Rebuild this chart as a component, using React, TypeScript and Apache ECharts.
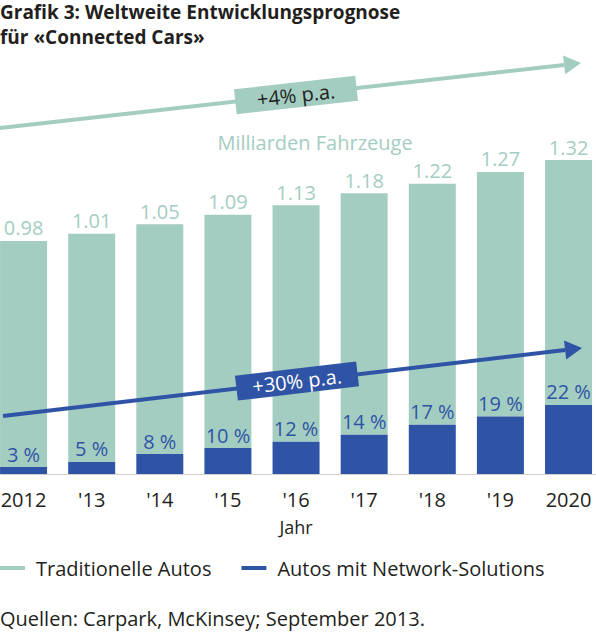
import React, { useEffect, useRef } from 'react';
import * as echarts from 'echarts';

const years = ['2012', "'13", "'14", "'15", "'16", "'17", "'18", "'19", '2020'];
const totals = [0.98, 1.01, 1.05, 1.09, 1.13, 1.18, 1.22, 1.27, 1.32];
const sharePct = [3, 5, 8, 10, 12, 14, 17, 19, 22];

const green = '#a4cdc1';
const blue = '#2f54a6';
const ink = '#231f20';
const font = '"Open Sans", sans-serif';

// blue part = share of total, green part = rest
const networked = totals.map((t, i) => +(t * sharePct[i] / 100).toFixed(4));
const traditional = totals.map((t, i) => +(t - networked[i]).toFixed(4));

const arrow = (x0: number, y0: number, x1: number, y1: number, color: string) => {
  const len = Math.hypot(x1 - x0, y1 - y0);
  const dx = (x1 - x0) / len;
  const dy = (y1 - y0) / len;
  const bx = x1 - 17 * dx;
  const by = y1 - 17 * dy;
  const nx = -dy * 9.5;
  const ny = dx * 9.5;
  return [
    {
      type: 'line',
      z: 100,
      shape: { x1: x0, y1: y0, x2: bx, y2: by },
      style: { stroke: color, lineWidth: 4 },
    },
    {
      type: 'polygon',
      z: 100,
      shape: { points: [[x1, y1], [bx + nx, by + ny], [bx - nx, by - ny]] },
      style: { fill: color },
    },
  ];
};

const tag = (cx: number, cy: number, angle: number, text: string, fill: string, color: string) => ({
  type: 'group',
  x: cx,
  y: cy,
  z: 101,
  rotation: angle,
  children: [
    { type: 'rect', z: 101, shape: { x: -61, y: -12.5, width: 122, height: 25 }, style: { fill } },
    {
      type: 'text',
      z: 102,
      x: 0,
      y: 0,
      style: { text, fill: color, font: `20px ${font}`, align: 'center', verticalAlign: 'middle' },
    },
  ],
});

export default function App() {
  const chartRef = useRef<HTMLDivElement>(null);

  useEffect(() => {
    document.body.style.margin = '0';
    if (!chartRef.current) return;
    const chart = echarts.init(chartRef.current, null, { renderer: 'svg' });

    chart.setOption({
      animation: false,
      backgroundColor: '#ffffff',
      textStyle: { fontFamily: font },
      legend: {
        left: 0,
        top: 558,
        padding: 0,
        icon: 'rect',
        itemWidth: 25,
        itemHeight: 4,
        itemGap: 30,
        data: ['Traditionelle Autos', 'Autos mit Network-Solutions'],
        textStyle: { fontSize: 20, color: ink, padding: [0, 0, 0, 6], fontFamily: font },
      },
      grid: { left: -10.5, right: -6.6, top: 141, bottom: 162, containLabel: false, outerBoundsMode: 'none' },
      xAxis: {
        type: 'category',
        data: years,
        name: 'Jahr',
        nameLocation: 'middle',
        nameGap: 44,
        nameTextStyle: { fontSize: 18, color: ink },
        axisLine: { lineStyle: { color: '#cfcfcf', width: 1 } },
        axisTick: { show: false },
        axisLabel: { fontSize: 20, color: ink, margin: 15 },
      },
      yAxis: {
        type: 'value',
        min: 0,
        max: 1.4,
        show: false,
        splitLine: { show: false },
      },
      series: [
        {
          name: 'Autos mit Network-Solutions',
          type: 'bar',
          stack: 'cars',
          barWidth: 47,
          data: networked,
          itemStyle: { color: blue },
          label: {
            show: true,
            position: 'top',
            distance: 3,
            fontSize: 20,
            color: blue,
            formatter: (p: any) => `${sharePct[p.dataIndex]} %`,
          },
          z: 3,
        },
        {
          name: 'Traditionelle Autos',
          type: 'bar',
          stack: 'cars',
          barWidth: 47,
          data: traditional,
          itemStyle: { color: green },
          label: {
            show: true,
            position: 'top',
            distance: 3,
            fontSize: 20,
            color: green,
            formatter: (p: any) => totals[p.dataIndex].toFixed(2),
          },
          z: 2,
        },
      ],
      graphic: [
        {
          type: 'text',
          x: 0,
          y: 12,
          style: {
            text: 'Grafik 3: Weltweite Entwicklungsprognose',
            fill: ink,
            font: `bold 19px ${font}`,
            verticalAlign: 'middle',
          },
        },
        {
          type: 'text',
          x: 0,
          y: 37,
          style: {
            text: 'für «Connected Cars»',
            fill: ink,
            font: `bold 19px ${font}`,
            verticalAlign: 'middle',
          },
        },
        {
          type: 'text',
          x: 315,
          y: 142,
          style: {
            text: 'Milliarden Fahrzeuge',
            fill: green,
            font: `20px ${font}`,
            align: 'center',
            verticalAlign: 'middle',
          },
        },
        ...arrow(0, 128, 581, 63, green),
        tag(296, 95, Math.atan2(65, 581), '+4% p.a.', green, ink),
        ...arrow(3, 416, 582, 348, blue),
        tag(297, 381, Math.atan2(68, 579), '+30% p.a.', blue, '#ffffff'),
        {
          type: 'text',
          x: 0,
          y: 618,
          style: {
            text: 'Quellen: Carpark, McKinsey; September 2013.',
            fill: ink,
            font: `20px ${font}`,
            verticalAlign: 'middle',
          },
        },
      ],
    });

    return () => chart.dispose();
  }, []);

  return <div ref={chartRef} style={{ width: 596, height: 636 }} />;
}
